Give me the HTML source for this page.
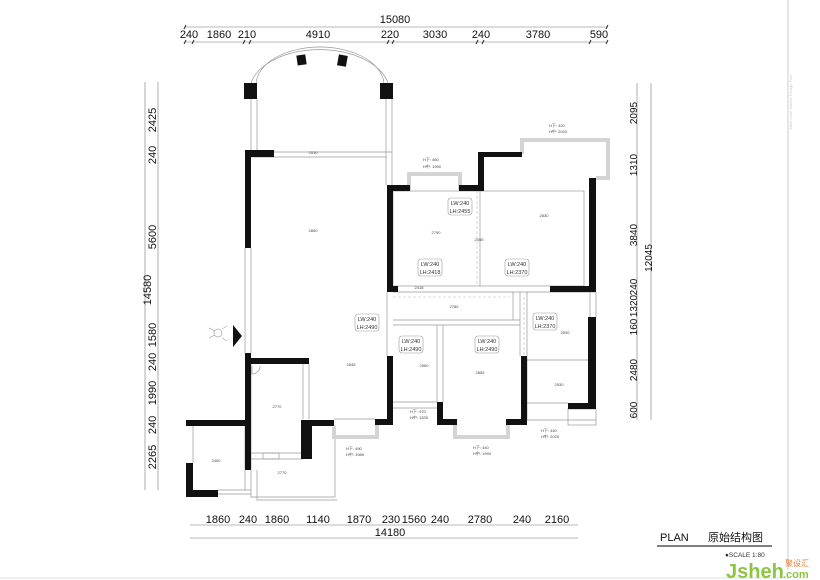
<!DOCTYPE html>
<html><head><meta charset="utf-8"><style>
html,body{margin:0;padding:0;background:#fff;}
svg{display:block;font-family:"Liberation Sans","Noto Sans CJK SC",sans-serif;}
.d{font-size:11px;fill:#111;}
.s{font-size:4px;fill:#444;}
.w{fill:#111;}
.t{stroke:#999;stroke-width:0.7;fill:none;}
.g{fill:none;stroke:#d4d4d4;stroke-width:4;}
.dl{stroke:#777;stroke-width:0.6;}
.tick{stroke:#222;stroke-width:1;}
.lw{fill:#fff;stroke:#999;stroke-width:0.6;}
.lt{font-size:5.5px;fill:#333;}
</style></head><body>
<svg width="820" height="580" viewBox="0 0 820 580">
<rect width="820" height="580" fill="#fff"/>
<line x1="788" y1="0" x2="788" y2="570" stroke="#ccc" stroke-width="1"/>
<line x1="0" y1="578" x2="788" y2="578" stroke="#ddd" stroke-width="1"/>
<text x="0" y="0" transform="translate(792,130) rotate(-90)" font-size="4" fill="#ccc">Jsheh.com Interior Design Plan</text>

<line class="dl" x1="185" y1="27" x2="607" y2="27"/>
<line class="dl" x1="185" y1="42" x2="607" y2="42"/>
<text class="d" x="395" y="23" text-anchor="middle">15080</text>
<g class="tick">
<line x1="184" y1="29" x2="186" y2="25"/><line x1="606" y1="29" x2="608" y2="25"/>
<line x1="184" y1="44" x2="186" y2="40"/><line x1="192" y1="44" x2="194" y2="40"/><line x1="243" y1="44" x2="245" y2="40"/><line x1="249" y1="44" x2="251" y2="40"/><line x1="387" y1="44" x2="389" y2="40"/><line x1="392" y1="44" x2="394" y2="40"/><line x1="476" y1="44" x2="478" y2="40"/><line x1="482" y1="44" x2="484" y2="40"/><line x1="589" y1="44" x2="591" y2="40"/><line x1="606" y1="44" x2="608" y2="40"/>
</g>
<g class="d" text-anchor="middle">
<text x="189" y="38">240</text><text x="219" y="38">1860</text><text x="247" y="38">210</text><text x="318" y="38">4910</text><text x="390" y="38">220</text><text x="435" y="38">3030</text><text x="481" y="38">240</text><text x="538" y="38">3780</text><text x="599" y="38">590</text>
</g>

<line class="dl" x1="145" y1="82" x2="145" y2="490"/>
<line class="dl" x1="158" y1="82" x2="158" y2="490"/>
<g class="d" text-anchor="middle">
<text transform="translate(151,290) rotate(-90)">14580</text>
<text transform="translate(156,120) rotate(-90)">2425</text>
<text transform="translate(156,155) rotate(-90)">240</text>
<text transform="translate(156,237) rotate(-90)">5600</text>
<text transform="translate(156,335) rotate(-90)">1580</text>
<text transform="translate(156,362) rotate(-90)">240</text>
<text transform="translate(156,393) rotate(-90)">1990</text>
<text transform="translate(156,425) rotate(-90)">240</text>
<text transform="translate(156,457) rotate(-90)">2265</text>
</g>

<line class="dl" x1="637" y1="83" x2="637" y2="420"/>
<line class="dl" x1="651" y1="83" x2="651" y2="420"/>
<g class="d" text-anchor="middle" style="font-size:10px">
<text transform="translate(637,113) rotate(-90)">2095</text>
<text transform="translate(637,165) rotate(-90)">1310</text>
<text transform="translate(637,235) rotate(-90)">3840</text>
<text transform="translate(652,258) rotate(-90)">12045</text>
<text transform="translate(637,287) rotate(-90)">240</text>
<text transform="translate(637,306) rotate(-90)">1320</text>
<text transform="translate(637,327) rotate(-90)">160</text>
<text transform="translate(637,370) rotate(-90)">2480</text>
<text transform="translate(637,410) rotate(-90)">600</text>
</g>

<line class="dl" x1="190" y1="525" x2="578" y2="525"/>
<line class="dl" x1="190" y1="538" x2="578" y2="538"/>
<g class="d" text-anchor="middle">
<text x="218" y="523">1860</text><text x="248" y="523">240</text><text x="277" y="523">1860</text><text x="318" y="523">1140</text><text x="359" y="523">1870</text><text x="391" y="523">230</text><text x="414" y="523">1560</text><text x="440" y="523">240</text><text x="480" y="523">2780</text><text x="522" y="523">240</text><text x="557" y="523">2160</text>
<text x="390" y="536">14180</text>
</g>

<g class="t">
<path d="M251 83 A70 42 0 0 1 388 83"/>
<path d="M256 85 A64 38 0 0 1 384 85"/>
<line x1="251" y1="99" x2="251" y2="150"/><line x1="257" y1="99" x2="257" y2="150"/>
<line x1="386" y1="99" x2="386" y2="185"/><line x1="392" y1="99" x2="392" y2="185"/>
<line x1="274" y1="152" x2="392" y2="152"/><line x1="251" y1="157" x2="387" y2="157"/>
<line x1="245" y1="248" x2="245" y2="353"/><line x1="251" y1="248" x2="251" y2="353"/>
<rect x="393" y="191" width="191" height="95"/>
<line x1="480" y1="191" x2="480" y2="286"/>
<line x1="393" y1="292" x2="596" y2="292"/>
<line x1="393" y1="320" x2="520" y2="320"/>
<line x1="393" y1="325" x2="520" y2="325"/>
<line x1="437" y1="325" x2="437" y2="402"/><line x1="443" y1="325" x2="443" y2="402"/>
<line x1="513" y1="292" x2="513" y2="320"/><line x1="520" y1="292" x2="520" y2="356"/>
<line x1="527" y1="292" x2="527" y2="420"/>
<line x1="527" y1="360" x2="588" y2="360"/>
<line x1="527" y1="403" x2="568" y2="403"/>
<line x1="596" y1="292" x2="596" y2="317"/><line x1="590" y1="292" x2="590" y2="317"/>
<line x1="393" y1="402" x2="437" y2="402"/><line x1="393" y1="408" x2="437" y2="408"/>
<rect x="568" y="409" width="28" height="16"/>
<line x1="527" y1="420" x2="596" y2="420"/>
<line x1="251" y1="364" x2="251" y2="470"/>
<line x1="303" y1="364" x2="303" y2="419"/><line x1="309" y1="364" x2="309" y2="419"/>
<line x1="251" y1="453" x2="303" y2="453"/><line x1="251" y1="459" x2="303" y2="459"/>
<rect x="263" y="453" width="16" height="6"/>
<line x1="193" y1="426" x2="193" y2="463"/><line x1="245" y1="426" x2="245" y2="490"/>
<line x1="218" y1="490" x2="251" y2="490"/><line x1="218" y1="494" x2="251" y2="494"/>
<path d="M251 470 V497 H335 V425"/>
<path d="M257 470 V500 H337"/>
<line x1="334" y1="419" x2="375" y2="419"/>
<line x1="387" y1="292" x2="387" y2="356"/>
<path d="M252 366 v8 a8 8 0 0 0 8 -8" />
</g>
<g stroke="#bbb" stroke-width="0.6" stroke-dasharray="3,2" fill="none">
<line x1="393" y1="297" x2="510" y2="297"/>
<line x1="477" y1="191" x2="477" y2="286"/>
<line x1="524" y1="297" x2="524" y2="356"/>
<line x1="387" y1="292" x2="387" y2="325"/>
</g>

<g class="g">
<path d="M409 191 V174 H460 V191"/>
<path d="M522 154 V140 H608 V178 H596"/>
<path d="M334 427 V437 H377 V425"/>
<path d="M455 425 V437 H508 V425"/>
</g>

<g class="w">
<rect x="244" y="83" width="13" height="16"/><rect x="380" y="83" width="13" height="16"/>
<rect x="297" y="55" width="9" height="10" transform="rotate(-8 301 60)"/>
<rect x="338" y="55" width="9" height="11" transform="rotate(10 342 60)"/>
<rect x="245" y="150" width="29" height="7"/>
<rect x="245" y="150" width="6" height="98"/>
<rect x="245" y="353" width="6" height="117"/>
<rect x="251" y="358" width="58" height="6"/>
<rect x="186" y="420" width="59" height="6"/>
<rect x="186" y="463" width="7" height="34"/>
<rect x="186" y="490" width="32" height="7"/>
<rect x="301" y="420" width="11" height="39"/>
<rect x="301" y="420" width="33" height="6"/>
<rect x="375" y="419" width="18" height="6"/>
<rect x="387" y="356" width="6" height="69"/>
<rect x="387" y="185" width="6" height="107"/>
<rect x="387" y="185" width="23" height="6"/>
<rect x="459" y="185" width="25" height="6"/>
<rect x="478" y="152" width="6" height="39"/>
<rect x="478" y="152" width="44" height="5"/>
<rect x="589" y="178" width="7" height="114"/>
<rect x="550" y="286" width="46" height="6"/>
<rect x="387" y="286" width="11" height="6"/>
<rect x="588" y="317" width="8" height="92"/>
<rect x="568" y="403" width="28" height="6"/>
<rect x="437" y="402" width="6" height="23"/>
<rect x="437" y="419" width="20" height="6"/>
<rect x="506" y="419" width="21" height="6"/>
<rect x="521" y="356" width="6" height="69"/>
<polygon points="233,325 242,336 233,347"/>
</g>
<g stroke="#aaa" fill="none" stroke-width="0.7"><circle cx="218" cy="333" r="4"/><path d="M209 328 l6 3 M209 338 l6 -3 M222 329 l5 -3 M222 338 l5 3"/></g>

<g class="s" text-anchor="middle">
<text x="313" y="154">2510</text><text x="313" y="232">2850</text><text x="351" y="366">2845</text>
<text x="277" y="408">2770</text><text x="282" y="474">2770</text><text x="216" y="462">2400</text>
<text x="436" y="234">2790</text><text x="479" y="241">2455</text><text x="419" y="289">2418</text>
<text x="544" y="217">2830</text><text x="454" y="308">2780</text><text x="565" y="334">2530</text>
<text x="424" y="367">2560</text><text x="480" y="374">2855</text><text x="559" y="386">2530</text>
</g>
<g class="s">
<text x="423" y="161">H下: 460</text><text x="423" y="168">H中: 1990</text>
<text x="549" y="127">H下: 420</text><text x="549" y="133">H中: 2020</text>
<text x="410" y="413">H下: 970</text><text x="410" y="419">H中: 1535</text>
<text x="346" y="450">H下: 490</text><text x="346" y="456">H中: 1985</text>
<text x="473" y="449">H下: 440</text><text x="473" y="455">H中: 1990</text>
<text x="541" y="432">H下: 440</text><text x="541" y="438">H中: 2020</text>
</g>
<g>
<rect class="lw" x="448" y="198" width="24" height="17" rx="3"/><text class="lt" x="460" y="205" text-anchor="middle">LW:240</text><text class="lt" x="460" y="213" text-anchor="middle">LH:2455</text>
<rect class="lw" x="418" y="259" width="24" height="17" rx="3"/><text class="lt" x="430" y="266" text-anchor="middle">LW:240</text><text class="lt" x="430" y="274" text-anchor="middle">LH:2418</text>
<rect class="lw" x="505" y="259" width="24" height="17" rx="3"/><text class="lt" x="517" y="266" text-anchor="middle">LW:240</text><text class="lt" x="517" y="274" text-anchor="middle">LH:2370</text>
<rect class="lw" x="355" y="314" width="24" height="17" rx="3"/><text class="lt" x="367" y="321" text-anchor="middle">LW:240</text><text class="lt" x="367" y="329" text-anchor="middle">LH:2490</text>
<rect class="lw" x="533" y="313" width="24" height="17" rx="3"/><text class="lt" x="545" y="320" text-anchor="middle">LW:240</text><text class="lt" x="545" y="328" text-anchor="middle">LH:2370</text>
<rect class="lw" x="399" y="336" width="24" height="17" rx="3"/><text class="lt" x="411" y="343" text-anchor="middle">LW:240</text><text class="lt" x="411" y="351" text-anchor="middle">LH:2490</text>
<rect class="lw" x="475" y="336" width="24" height="17" rx="3"/><text class="lt" x="487" y="343" text-anchor="middle">LW:240</text><text class="lt" x="487" y="351" text-anchor="middle">LH:2490</text>
</g>

<text x="660" y="541" font-size="11" fill="#111">PLAN</text>
<text x="708" y="541" font-size="11" fill="#111">原始结构图</text>
<line x1="657" y1="546" x2="772" y2="546" stroke="#333" stroke-width="1.2"/>
<text x="725" y="557" font-size="6.5" fill="#333">●SCALE 1:80</text>
<text x="726" y="578" font-size="20" font-weight="bold" fill="#8cc63f">Jsheh</text>
<text x="785" y="566" font-size="8" fill="#e87a2a">聚设汇</text>
<text x="783" y="578" font-size="11" font-weight="bold" fill="#8cc63f">.com</text>
</svg>
</body></html>
